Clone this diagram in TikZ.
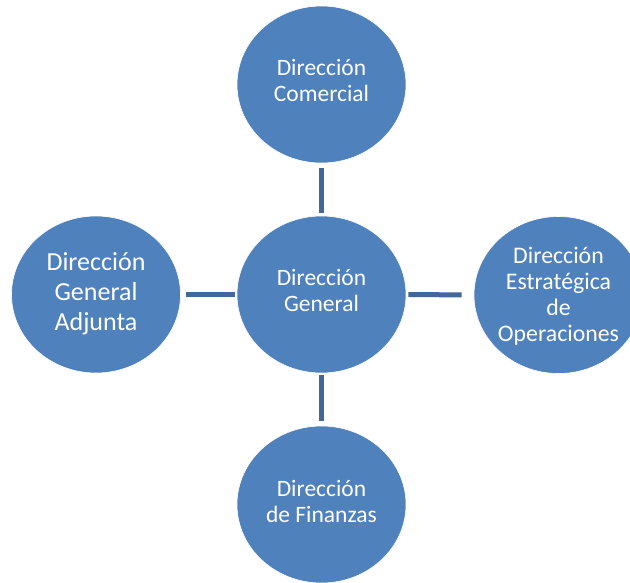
\documentclass[tikz,border=0pt]{standalone}
\usepackage{fontspec}
\setmainfont{Carlito}
\usetikzlibrary{shapes.geometric}
\definecolor{bubble}{HTML}{4F81BD}
\definecolor{link}{HTML}{41689B}
\begin{document}
\begin{tikzpicture}[x=1pt,y=1pt,
  bubblebox/.style={ellipse, fill=bubble, draw=white, line width=0.6pt, inner sep=0pt,
    minimum width=169pt, minimum height=157pt},
  bubbletext/.style={text=white, align=center, inner sep=0pt,
    font=\fontsize{23.5}{25.5}\selectfont},
  linkline/.style={draw=link, line width=5pt}]
\useasboundingbox (0,0) rectangle (630,-582);
\node[bubblebox] (top) at (321.5,-84.5) {};
\node[bubblebox] (mid) at (321.5,-294.5) {};
\node[bubblebox] (left) at (96,-294.5) {};
\node[bubblebox] (right) at (558.5,-295) {};
\node[bubblebox] (bot) at (321.5,-504.5) {};
\node[bubbletext] (toptext) at ([yshift=4pt]top.center) {Dirección\\Comercial};
\node[bubbletext] (midtext) at ([yshift=4pt]mid.center) {Dirección\\General};
\node[bubbletext, font=\fontsize{26}{30}\selectfont] (lefttext) at ([yshift=0.5pt]left.center) {Dirección\\General\\Adjunta};
\node[bubbletext, font=\fontsize{23.8}{26}\selectfont] (righttext) at ([yshift=-1pt]right.center) {Dirección\\Estratégica\\de\\Operaciones};
\node[bubbletext] (bottext) at ([yshift=3pt]bot.center) {Dirección\\de Finanzas};
\draw[linkline, shorten <=5pt, shorten >=3pt] (top.south) -- (mid.north);
\draw[linkline, shorten <=5pt, shorten >=2pt] (left.east) -- (mid.west);
\draw[linkline, shorten <=2pt, shorten >=12pt] (mid.east) -- (right.west);
\draw[linkline, shorten <=2pt, shorten >=5pt] (mid.south) -- (bot.north);
\end{tikzpicture}
\end{document}
